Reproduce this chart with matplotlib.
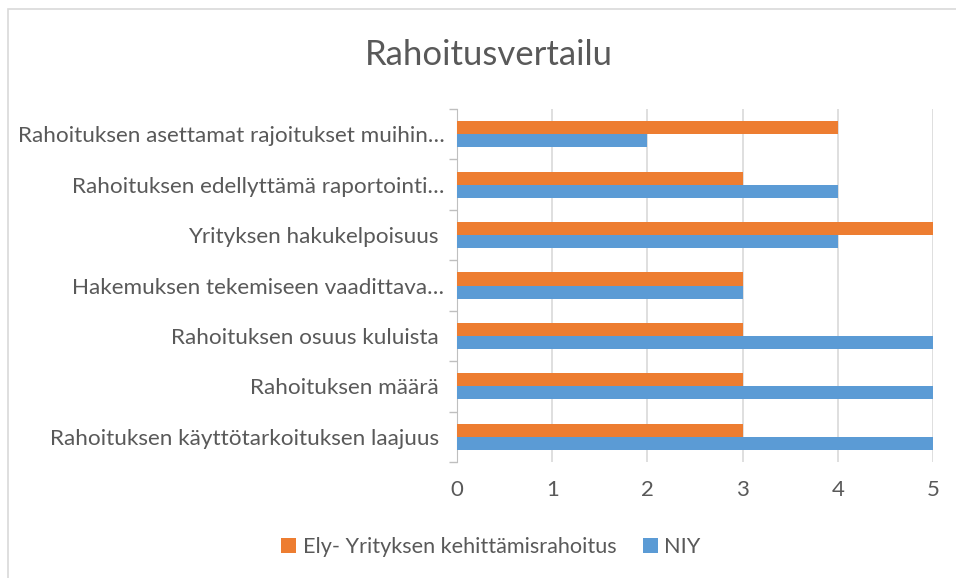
import numpy as np
import matplotlib.pyplot as plt
from matplotlib.patches import Rectangle

categories = [
    "Rahoituksen käyttötarkoituksen laajuus ",
    "Rahoituksen määrä ",
    "Rahoituksen osuus kuluista ",
    "Hakemuksen tekemiseen vaadittava…",
    "Yrityksen hakukelpoisuus ",
    "Rahoituksen edellyttämä raportointi…",
    "Rahoituksen asettamat rajoitukset muihin…",
]
ely = [3, 3, 3, 3, 5, 3, 4]
niy = [5, 5, 5, 3, 4, 4, 2]
series_names = ["Ely- Yrityksen kehittämisrahoitus", "NIY"]
xticks = [0, 1, 2, 3, 4, 5]

plt.rcParams['font.family'] = ['Lato', 'DejaVu Sans']
txt = '#595959'
grid = '#D9D9D9'

fig = plt.figure(figsize=(9.56, 5.78), dpi=100)
fig.patches.append(Rectangle((8/956, -0.1), 1.2, 1 - 9/578 + 0.1, transform=fig.transFigure,
                             fill=False, edgecolor='#D9D9D9', lw=1.2))

ax = fig.add_axes([457/956, 1 - 462/578, (933 - 457)/956, (462 - 109)/578])

y = np.arange(len(categories))
h = 0.26
ax.barh(y - h/2, niy, height=h, color='#5B9BD5', label=series_names[1], zorder=3)
ax.barh(y + h/2, ely, height=h, color='#ED7D31', label=series_names[0], zorder=3)

ax.set_xlim(0, 5)
ax.set_ylim(-0.5, len(categories) - 0.5)
ax.set_xticks(xticks)
ax.set_xticklabels([str(t) for t in xticks])
ax.set_yticks(y)
ax.set_yticklabels(categories)
ax.set_yticks(np.arange(len(categories) + 1) - 0.5, minor=True)
ax.tick_params(axis='y', which='major', length=0, pad=9, labelsize=16.2, labelcolor=txt)
ax.tick_params(axis='y', which='minor', length=6, color='#BFBFBF', width=1)
ax.tick_params(axis='x', length=0, pad=13, labelsize=16, labelcolor=txt)
ax.xaxis.grid(True, color=grid, lw=1.2, zorder=0)
for s in ['top', 'right', 'bottom']:
    ax.spines[s].set_visible(False)
ax.spines['left'].set_color('#BFBFBF')

fig.text(489/956, 1 - 55/578, "Rahoitusvertailu", ha='center', va='center', fontsize=25, color=txt)

handles, labels = ax.get_legend_handles_labels()
fig.legend(handles[::-1], labels[::-1], loc='center', bbox_to_anchor=(491/956, 1 - 547/578), ncol=2,
           frameon=False, fontsize=15.6, labelcolor=txt, handlelength=0.7, handleheight=0.7,
           handletextpad=0.3, columnspacing=1.2)

fig.savefig('out.png', dpi=100)
